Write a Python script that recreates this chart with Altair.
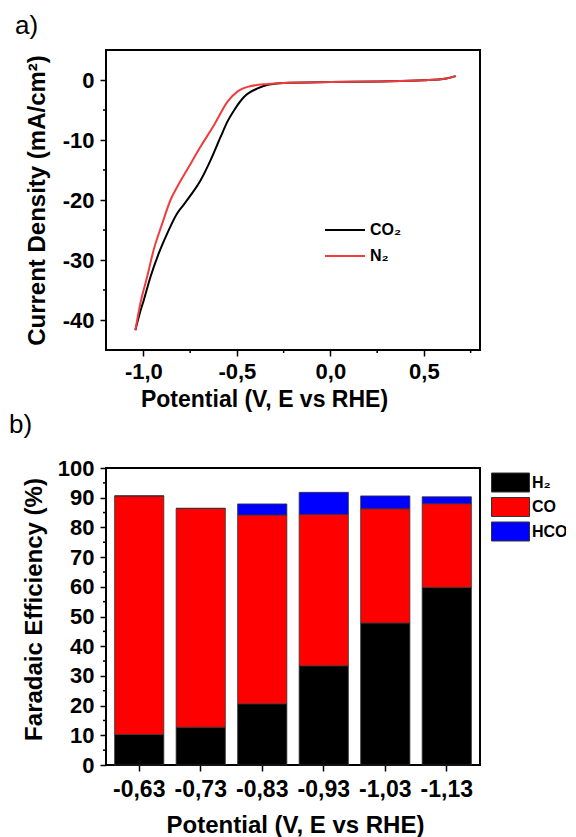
import altair as alt
import pandas as pd

FONT = "Liberation Sans"

# ---- Panel a: LSV curves (V vs RHE, mA/cm2) ----
v_co2 = [-1.043, -1.016, -0.998, -0.962, -0.918, -0.873, -0.819, -0.785, -0.747,
         -0.694, -0.640, -0.586, -0.550, -0.514, -0.461, -0.389, -0.335, -0.25,
         0.0, 0.27, 0.5, 0.62, 0.67]
j_co2 = [-41.7, -38.5, -36.7, -32.8, -28.9, -25.6, -22.2, -20.8, -19.2,
         -16.7, -13.3, -9.4, -6.9, -5.0, -2.8, -1.4, -0.8, -0.5,
         -0.35, -0.25, -0.05, 0.25, 0.65]
v_n2 = [-1.043, -1.016, -0.980, -0.945, -0.899, -0.855, -0.819, -0.756, -0.694,
        -0.622, -0.550, -0.496, -0.425, -0.335, -0.25, 0.0, 0.27, 0.5, 0.62, 0.67]
j_n2 = [-41.7, -37.2, -32.8, -28.3, -23.9, -20.0, -17.8, -14.4, -11.1,
        -7.5, -3.6, -1.9, -1.0, -0.67, -0.5, -0.35, -0.25, -0.05, 0.25, 0.65]
gases = ["CO₂", "N₂"]
gas_colors = ["#000000", "#f03c3c"]

x_ticks_a = [-1.0, -0.5, 0.0, 0.5]
x_minor_a = [-0.75, -0.25, 0.25, 0.75]
y_ticks_a = [-40, -30, -20, -10, 0]
y_minor_a = [-35, -25, -15, -5]

# ---- Panel b: Faradaic efficiency ----
potentials = ["-0,63", "-0,73", "-0,83", "-0,93", "-1,03", "-1,13"]
fe_h2 = [10.3, 12.7, 20.6, 33.4, 47.8, 59.8]
fe_co = [80.3, 73.7, 63.6, 51.0, 38.5, 28.2]
fe_hco2 = [0.0, 0.0, 3.7, 7.4, 4.3, 2.3]
products = ["H₂", "CO", "HCO₂⁻"]
product_colors = ["#000000", "#ff0000", "#0000ff"]
y_ticks_b = [0, 10, 20, 30, 40, 50, 60, 70, 80, 90, 100]
y_minor_b = [5, 15, 25, 35, 45, 55, 65, 75, 85, 95]

panel_labels = ["a)", "b)"]

df_lines = pd.concat([
    pd.DataFrame({"V": v_co2, "J": j_co2, "gas": gases[0]}),
    pd.DataFrame({"V": v_n2, "J": j_n2, "gas": gases[1]}),
])
df_bars = pd.concat([
    pd.DataFrame({"pot": potentials, "fe": vals, "product": p, "idx": i})
    for i, (p, vals) in enumerate(zip(products, [fe_h2, fe_co, fe_hco2]))
])

axis_common = dict(
    labelFont=FONT, labelFontSize=22, labelFontWeight="bold", labelColor="black",
    titleFont=FONT, titleFontWeight="bold", titleColor="black",
    tickColor="black", tickWidth=1.5, tickSize=6, domain=False, grid=False,
    titleBaseline="alphabetic", labelOverlap=False,
)

xs_a = alt.Scale(domain=[-1.2, 0.8], nice=False, zero=False)
ys_a = alt.Scale(domain=[-45, 5], nice=False, zero=False)
xax_a = alt.Axis(values=x_ticks_a, format=".1f", title="Potential (V, E vs RHE)",
                 titleFontSize=23, titleX=158, titleY=56, labelPadding=5, **axis_common)
yax_a = alt.Axis(values=y_ticks_a, format="d", title="Current Density (mA/cm²)",
                 titleFontSize=24, titleX=-62, titleY=150, labelPadding=6, **axis_common)

lines = alt.Chart(df_lines).mark_line(strokeWidth=2, interpolate="monotone").encode(
    x=alt.X("V:Q", scale=xs_a, axis=xax_a),
    y=alt.Y("J:Q", scale=ys_a, axis=yax_a),
    color=alt.Color("gas:N", scale=alt.Scale(domain=gases, range=gas_colors),
                    legend=alt.Legend(
                        title=None, orient="none", legendX=218, legendY=169,
                        symbolType="M-1,0H3", symbolSize=400, symbolStrokeWidth=2,
                        labelFont=FONT, labelFontSize=16, labelFontWeight="bold",
                        labelColor="black", labelOffset=24, rowPadding=7, padding=0)),
    order=alt.Order("V:Q"),
)

minor_xa = alt.Chart(pd.DataFrame({"V": x_minor_a})).mark_rule(
    color="black", strokeWidth=1.5).encode(
    x=alt.X("V:Q", scale=xs_a, axis=xax_a), y=alt.value(300), y2=alt.value(303))
minor_ya = alt.Chart(pd.DataFrame({"J": y_minor_a})).mark_rule(
    color="black", strokeWidth=1.5).encode(
    y=alt.Y("J:Q", scale=ys_a, axis=yax_a), x=alt.value(0), x2=alt.value(-3))
label_a = alt.Chart(pd.DataFrame({"t": [panel_labels[0]]})).mark_text(
    align="left", baseline="alphabetic", font=FONT, fontSize=26, color="black").encode(
    text="t:N", x=alt.value(-91), y=alt.value(-16))

panel_a = alt.layer(lines, minor_xa, minor_ya, label_a).properties(width=374, height=300)

ys_b = alt.Scale(domain=[0, 100], nice=False)
xax_b = alt.Axis(labelAngle=0, title="Potential (V, E vs RHE)", titleFontSize=24,
                 titleX=189, titleY=67, labelPadding=7,
                 **{**axis_common, "labelFontSize": 23})
yax_b = alt.Axis(values=y_ticks_b, format="d", title="Faradaic Efficiency (%)",
                 titleFontSize=24, titleX=-65, titleY=141, labelPadding=6, **axis_common)

bars = alt.Chart(df_bars).mark_bar(stroke="#333333", strokeWidth=0.8).encode(
    x=alt.X("pot:N", sort=potentials,
            scale=alt.Scale(paddingInner=0.2, paddingOuter=0.14), axis=xax_b),
    y=alt.Y("fe:Q", stack="zero", scale=ys_b, axis=yax_b),
    color=alt.Color("product:N", scale=alt.Scale(domain=products, range=product_colors),
                    legend=alt.Legend(
                        title=None, orient="none", legendX=385, legendY=4.5,
                        symbolType="M-1,-1H3V1H-1Z", symbolSize=361,
                        symbolStrokeColor="#333333", symbolStrokeWidth=1,
                        symbolOpacity=1,
                        labelFont=FONT, labelFontSize=16, labelFontWeight="bold",
                        labelColor="black", labelOffset=21, rowPadding=0.5, padding=0)),
    order=alt.Order("idx:Q", sort="ascending"),
)

minor_yb = alt.Chart(pd.DataFrame({"fe": y_minor_b})).mark_rule(
    color="black", strokeWidth=1.5).encode(
    y=alt.Y("fe:Q", scale=ys_b, axis=yax_b), x=alt.value(0), x2=alt.value(-3))
label_b = alt.Chart(pd.DataFrame({"t": [panel_labels[1]]})).mark_text(
    align="left", baseline="alphabetic", font=FONT, fontSize=26, color="black").encode(
    text="t:N", x=alt.value(-97), y=alt.value(-35))

panel_b = alt.layer(bars, minor_yb, label_b).properties(width=374, height=297)

chart = alt.vconcat(panel_a, panel_b, spacing=118, bounds="flush").resolve_scale(
    color="independent"
).resolve_legend(color="independent").properties(
    padding={"left": 0, "top": 4, "right": -15, "bottom": 0},
).configure(
    locale={"number": {"decimal": ",", "thousands": ".", "grouping": [3],
                       "currency": ["", ""], "minus": "-"}},
).configure_view(stroke="black", strokeWidth=2)

chart.save("out.html", embed_options={"renderer": "svg", "actions": False})
